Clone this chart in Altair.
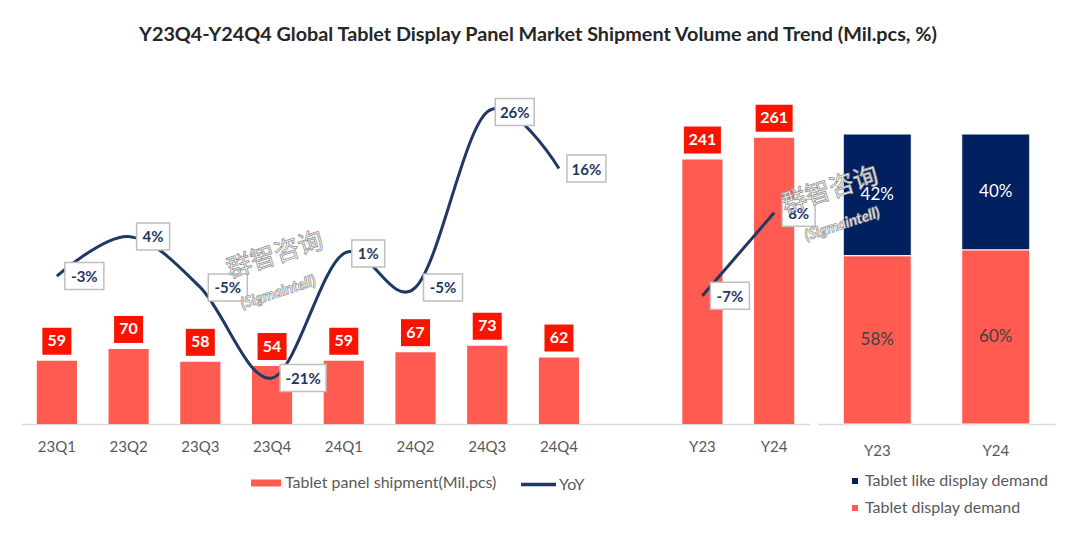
import altair as alt
import pandas as pd

# ---------------- data ----------------
quarters = ["23Q1", "23Q2", "23Q3", "23Q4", "24Q1", "24Q2", "24Q3", "24Q4"]
q_shipment = [59, 70, 58, 54, 59, 67, 73, 62]
q_yoy = [-3, 4, -5, -21, 1, -5, 26, 16]

years = ["Y23", "Y24"]
y_shipment = [241, 261]
y_yoy = [-7, 8]

mix_segments = ["Tablet like display demand", "Tablet display demand"]
mix_like = [42, 40]
mix_tablet = [58, 60]

BAR_SERIES = "Tablet panel shipment(Mil.pcs)"
LINE_SERIES = "YoY"
TITLE = "Y23Q4-Y24Q4 Global Tablet Display Panel Market Shipment Volume and Trend (Mil.pcs, %)"
WM_MAIN = "群智咨询"
WM_SUB = "(Sigmaintell)"

# ---------------- style ----------------
CORAL = "#FF5B50"
RED = "#FA1400"
NAVY = "#1F3864"
NAVY2 = "#002060"
GREY_TXT = "#595959"
FONT = "Lato"
H = 331

qdf = pd.DataFrame({"period": quarters, "ship": q_shipment, "yoy": q_yoy})
ydf = pd.DataFrame({"period": years, "ship": y_shipment, "yoy": y_yoy})
for d in (qdf, ydf):
    d["ship_lbl"] = d["ship"].astype(str)
    d["yoy_lbl"] = d["yoy"].astype(str) + "%"
    d["series"] = BAR_SERIES
    d["line"] = LINE_SERIES

mix_df = pd.DataFrame({
    "period": years + years,
    "segment": [mix_segments[0]] * 2 + [mix_segments[1]] * 2,
    "share": mix_like + mix_tablet,
})

x_domain = quarters + [" "] + years

Q_DOM = [0, H / 1.072]
Y_DOM = [0, H / 1.097]
QY_DOM = [-29.13, 29.35]
YY_DOM = [-30.2, 29.66]


def X():
    return alt.X(
        "period:N",
        sort=x_domain,
        scale=alt.Scale(domain=x_domain, paddingInner=0.44, paddingOuter=0.22),
        axis=alt.Axis(title=None, labelAngle=0, ticks=False, grid=False,
                      domainColor="#D9D9D9", domainWidth=1.5,
                      labelColor=GREY_TXT, labelFont=FONT, labelFontSize=15,
                      labelPadding=15),
    )


fill_enc = alt.Fill(
    "series:N",
    scale=alt.Scale(domain=[BAR_SERIES], range=[CORAL]),
    legend=alt.Legend(title=None, orient="none", legendX=235, legendY=380,
                      symbolType="M-1.5,-0.35L1.5,-0.35L1.5,0.35L-1.5,0.35Z",
                      symbolSize=400, symbolStrokeWidth=0, labelLimit=500,
                      labelFont=FONT, labelFontSize=16, labelColor=GREY_TXT,
                      labelOffset=9),
)
stroke_enc = alt.Stroke(
    "line:N",
    scale=alt.Scale(domain=[LINE_SERIES], range=[NAVY]),
    legend=alt.Legend(title=None, orient="none", legendX=498, legendY=372,
                      symbolType="stroke", symbolSize=1225, symbolStrokeWidth=3.5,
                      labelFont=FONT, labelFontSize=16, labelColor=GREY_TXT,
                      labelOffset=1, labelLimit=500),
)

layers = []

# bars
for df, dom in ((qdf, Q_DOM), (ydf, Y_DOM)):
    layers.append(
        alt.Chart(df).mark_bar().encode(
            x=X(), y=alt.Y("ship:Q", scale=alt.Scale(domain=dom), axis=None),
            fill=fill_enc,
        )
    )

# red value boxes + white values
for df, dom in ((qdf, Q_DOM), (ydf, Y_DOM)):
    for n, w in ((2, 29), (3, 37)):
        base = alt.Chart(df).transform_filter(f"length(datum.ship_lbl) == {n}")
        layers.append(
            base.mark_bar(width=w, color=RED, yOffset=-6, y2Offset=-33).encode(
                x=X(), y=alt.Y("ship:Q", scale=alt.Scale(domain=dom), axis=None),
                y2="ship:Q",
            )
        )
        layers.append(
            base.mark_text(color="white", font=FONT, fontWeight="bold", fontSize=16,
                           baseline="middle", dy=-19.5).encode(
                x=X(), y=alt.Y("ship:Q", scale=alt.Scale(domain=dom), axis=None),
                text="ship_lbl:N",
            )
        )

# YoY lines
layers.append(
    alt.Chart(qdf).mark_line(interpolate="cardinal", strokeWidth=3).encode(
        x=X(), y=alt.Y("yoy:Q", scale=alt.Scale(domain=QY_DOM), axis=None),
        stroke=stroke_enc,
    )
)
layers.append(
    alt.Chart(ydf).mark_line(strokeWidth=3).encode(
        x=X(), y=alt.Y("yoy:Q", scale=alt.Scale(domain=YY_DOM), axis=None),
        stroke=stroke_enc,
    )
)

# YoY label boxes
for df, dom in ((qdf, QY_DOM), (ydf, YY_DOM)):
    for n, w in ((2, 33), (3, 39), (4, 46)):
        base = alt.Chart(df).transform_filter(f"length(datum.yoy_lbl) == {n}")
        layers.append(
            base.mark_bar(width=w, xOffset=8 + w / 2, yOffset=13.5, y2Offset=-13.5,
                          fill="white", stroke="#BFBFBF", strokeWidth=1.5).encode(
                x=X(), y=alt.Y("yoy:Q", scale=alt.Scale(domain=dom), axis=None),
                y2="yoy:Q",
            )
        )
        layers.append(
            base.mark_text(color=NAVY, font=FONT, fontWeight="bold", fontSize=15,
                           baseline="middle", dx=8 + w / 2, dy=1).encode(
                x=X(), y=alt.Y("yoy:Q", scale=alt.Scale(domain=dom), axis=None),
                text="yoy_lbl:N",
            )
        )

# watermark (left)
wm_df = pd.DataFrame({"main": [WM_MAIN], "sub": [WM_SUB]})
layers.append(
    alt.Chart(wm_df).mark_text(angle=342, font="Noto Sans CJK SC", fontSize=25,
                               fill="white", stroke="#9A9A9A", strokeWidth=0.9).encode(
        x=alt.value(254), y=alt.value(162), text="main:N")
)
layers.append(
    alt.Chart(wm_df).mark_text(angle=342, font=FONT, fontStyle="italic", fontWeight="bold",
                               fontSize=15, fill="white", stroke="#9A9A9A",
                               strokeWidth=0.8).encode(
        x=alt.value(257), y=alt.value(199), text="sub:N")
)

left = alt.layer(*layers).resolve_scale(y="independent").properties(width=789, height=H)

# ---------------- right panel ----------------
XR = alt.X(
    "period:N", sort=years,
    scale=alt.Scale(domain=years, paddingInner=0.426, paddingOuter=0.213),
    axis=alt.Axis(title=None, labelAngle=0, ticks=False, grid=False,
                  domainColor="#D9D9D9", domainWidth=1.5,
                  labelColor=GREY_TXT, labelFont=FONT, labelFontSize=15,
                  labelPadding=19),
)
R_DOM = [0, H / 290]

rbase = alt.Chart(mix_df).transform_calculate(
    frac="datum.share / 100",
    rank="datum.segment == 'Tablet display demand' ? 0 : 1",
    lbl="datum.share + '%'",
)
rbars = rbase.mark_bar(stroke="white", strokeWidth=1).encode(
    x=XR,
    y=alt.Y("frac:Q", stack="zero", scale=alt.Scale(domain=R_DOM), axis=None),
    color=alt.Color(
        "segment:N",
        scale=alt.Scale(domain=mix_segments, range=[NAVY2, CORAL]),
        legend=alt.Legend(title=None, orient="none", legendX=826, legendY=380,
                          direction="vertical", symbolType="square", symbolSize=36,
                          symbolStrokeWidth=0, rowPadding=11, labelLimit=500,
                          labelFont=FONT, labelFontSize=16, labelColor=GREY_TXT,
                          labelOffset=2),
    ),
    order=alt.Order("rank:Q"),
)
rtext = rbase.transform_stack(
    stack="frac", groupby=["period"], as_=["y0", "y1"], sort=[alt.SortField("rank")]
).transform_calculate(mid="(datum.y0 + datum.y1) / 2").mark_text(
    font=FONT, fontSize=17, baseline="middle"
).encode(
    x=XR,
    y=alt.Y("mid:Q", scale=alt.Scale(domain=R_DOM), axis=None),
    text="lbl:N",
    color=alt.condition(alt.datum.segment == mix_segments[0],
                        alt.value("white"), alt.value("#404040")),
)
rwm1 = alt.Chart(wm_df).mark_text(angle=342, font="Noto Sans CJK SC", fontSize=25,
                                  fill="white", stroke="#9A9A9A", strokeWidth=0.9).encode(
    x=alt.value(12), y=alt.value(97), text="main:N")
rwm2 = alt.Chart(wm_df).mark_text(angle=342, font=FONT, fontStyle="italic", fontWeight="bold",
                                  fontSize=15, fill="white", stroke="#9A9A9A",
                                  strokeWidth=0.8).encode(
    x=alt.value(24), y=alt.value(131), text="sub:N")

right = alt.layer(rbars, rtext, rwm1, rwm2).properties(width=237, height=H)

chart = alt.hconcat(left, right, spacing=8, bounds="flush").properties(
    title=alt.TitleParams(TITLE, anchor="middle", fontSize=19.8, font=FONT,
                          fontWeight="bold", color="#262626", offset=48),
    padding={"left": 21, "top": 25, "right": 5, "bottom": 5},
).configure(
    background="white",
    view=alt.ViewConfig(stroke="transparent", strokeWidth=0),
)

chart.save("out.html", embed_options={"renderer": "svg", "actions": False})
